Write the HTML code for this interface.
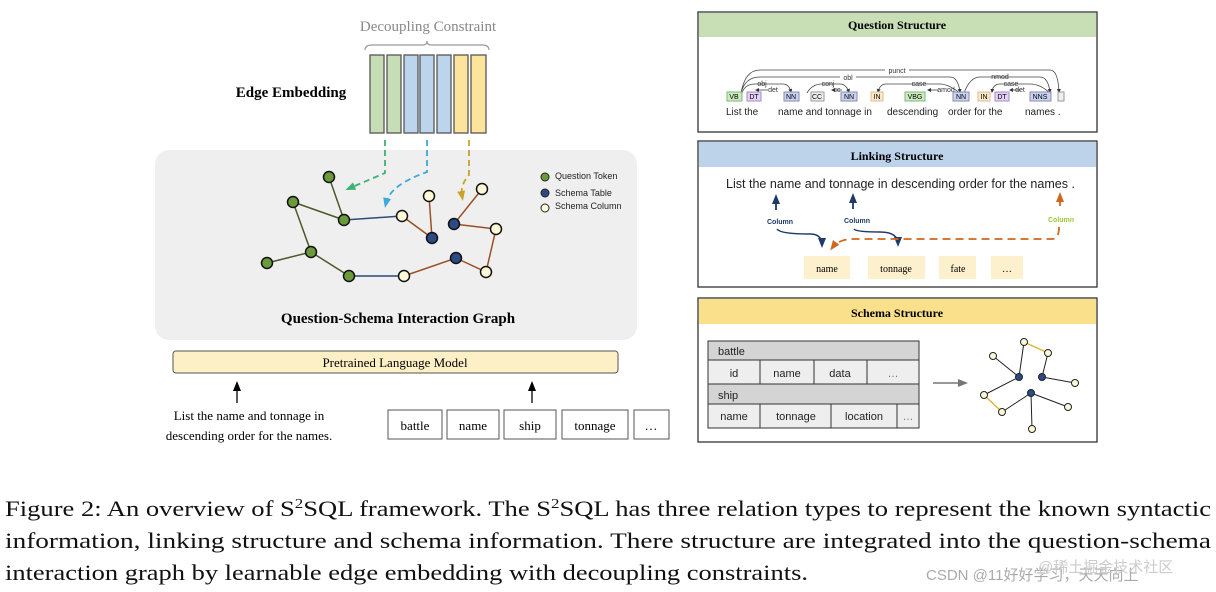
<!DOCTYPE html>
<html><head><meta charset="utf-8"><style>
html,body{margin:0;padding:0;background:#fff;width:1216px;height:592px;overflow:hidden}
svg text{font-family:"Liberation Sans","Noto Sans CJK SC",sans-serif}
.s{font-family:"Liberation Serif",serif}
</style></head><body>
<svg width="1216" height="592" viewBox="0 0 1216 592" xmlns="http://www.w3.org/2000/svg">
<defs>
<marker id="ag" markerUnits="userSpaceOnUse" markerWidth="10" markerHeight="10" refX="5" refY="5" orient="auto"><path d="M0,1L10,5L0,9z" fill="#3cb371"/></marker>
<marker id="ab" markerUnits="userSpaceOnUse" markerWidth="10" markerHeight="10" refX="5" refY="5" orient="auto"><path d="M0,1L10,5L0,9z" fill="#3aa9dc"/></marker>
<marker id="ay" markerUnits="userSpaceOnUse" markerWidth="10" markerHeight="10" refX="5" refY="5" orient="auto"><path d="M0,1L10,5L0,9z" fill="#c9a227"/></marker>
<marker id="ak" markerUnits="userSpaceOnUse" markerWidth="10" markerHeight="10" refX="8" refY="5" orient="auto"><path d="M0,1L10,5L0,9z" fill="#000"/></marker>
<marker id="an" markerUnits="userSpaceOnUse" markerWidth="10" markerHeight="10" refX="7" refY="5" orient="auto"><path d="M0,1L10,5L0,9z" fill="#1f3a68"/></marker>
<marker id="ao" markerUnits="userSpaceOnUse" markerWidth="10" markerHeight="10" refX="7" refY="5" orient="auto"><path d="M0,1L10,5L0,9z" fill="#d0661e"/></marker>
<marker id="ag2" markerUnits="userSpaceOnUse" markerWidth="10" markerHeight="10" refX="8" refY="5" orient="auto"><path d="M0,1L10,5L0,9z" fill="#777"/></marker>
<marker id="ad" markerUnits="userSpaceOnUse" markerWidth="4" markerHeight="4" refX="3" refY="2" orient="auto"><path d="M0,0L4,2L0,4z" fill="#333"/></marker>
</defs>

<text x="428" y="31" class="s" font-size="15" fill="#888" text-anchor="middle">Decoupling Constraint</text>
<path d="M365,50 Q365,45 372,45 L423,45 Q427,45 427,41 Q427,45 431,45 L482,45 Q489,45 489,50" fill="none" stroke="#999" stroke-width="1.2"/>
<g stroke="#555" stroke-width="1.3">
<rect x="370" y="55" width="14" height="78" fill="#c5deb5"/>
<rect x="387" y="55" width="14" height="78" fill="#c5deb5"/>
<rect x="404" y="55" width="14" height="78" fill="#bcd4ec"/>
<rect x="420" y="55" width="14" height="78" fill="#bcd4ec"/>
<rect x="437" y="55" width="14" height="78" fill="#bcd4ec"/>
<rect x="454" y="55" width="14" height="78" fill="#fde49c"/>
<rect x="471" y="55" width="15" height="78" fill="#fde49c"/>
</g>
<text x="291" y="97" class="s" font-size="15" font-weight="bold" text-anchor="middle">Edge Embedding</text>

<rect x="155" y="150" width="482" height="190" rx="14" fill="#efefef"/>
<g fill="none" stroke-width="1.8" stroke-dasharray="6,4">
<path d="M385,140 L385,173 L350,188" stroke="#3cb371" marker-end="url(#ag)"/>
<path d="M427,140 L427,172 Q390,185 386,203" stroke="#3aa9dc" marker-end="url(#ab)"/>
<path d="M469,140 L469,175 Q460,185 462,196" stroke="#c9a227" marker-end="url(#ay)"/>
</g>
<g stroke-width="1.5" fill="none">
<g stroke="#4a5a2a"><path d="M329,177L344,220M293,202L344,220M293,202L311,252L267,263M311,252L349,276"/></g>
<g stroke="#2c4a7a"><path d="M344,220L402,216M349,276L404,276"/></g>
<g stroke="#9a5024"><path d="M402,216L432,238L429,196M482,189L454,224L496,229L486,272L456,258L404,276"/></g>
</g>
<g stroke="#111" stroke-width="1.5">
<g fill="#6a9a3c"><circle cx="329" cy="177" r="5.5"/><circle cx="293" cy="202" r="5.5"/><circle cx="344" cy="220" r="5.5"/><circle cx="311" cy="252" r="5.5"/><circle cx="267" cy="263" r="5.5"/><circle cx="349" cy="276" r="5.5"/></g>
<g fill="#2c4a86"><circle cx="432" cy="238" r="5.5"/><circle cx="454" cy="224" r="5.5"/><circle cx="456" cy="258" r="5.5"/></g>
<g fill="#fcf8d8"><circle cx="402" cy="216" r="5.5"/><circle cx="429" cy="196" r="5.5"/><circle cx="482" cy="189" r="5.5"/><circle cx="496" cy="229" r="5.5"/><circle cx="486" cy="272" r="5.5"/><circle cx="404" cy="276" r="5.5"/></g>
</g>
<g stroke="#222" stroke-width="1">
<circle cx="545" cy="177" r="4" fill="#6a9a3c"/><circle cx="545" cy="193" r="4" fill="#2c4a86"/><circle cx="545" cy="208" r="4" fill="#fcf8d8"/>
</g>
<g font-size="9" fill="#222"><text x="555" y="179">Question Token</text><text x="555" y="196">Schema Table</text><text x="555" y="209">Schema Column</text></g>
<text x="398" y="323" class="s" font-size="15" font-weight="bold" text-anchor="middle">Question-Schema Interaction Graph</text>

<rect x="173" y="351" width="445" height="22" rx="3" fill="#fdf0c6" stroke="#555" stroke-width="1"/>
<text x="395" y="367" class="s" font-size="13" text-anchor="middle">Pretrained Language Model</text>
<path d="M237,403L237,383" stroke="#000" stroke-width="1.3" marker-end="url(#ak)"/>
<path d="M532,403L532,383" stroke="#000" stroke-width="1.3" marker-end="url(#ak)"/>
<text x="249" y="420" class="s" font-size="13" text-anchor="middle">List the name and tonnage in</text>
<text x="249" y="440" class="s" font-size="13" text-anchor="middle">descending order for the names.</text>
<g fill="#fff" stroke="#555" stroke-width="1">
<rect x="388" y="410" width="54" height="29"/><rect x="447" y="410" width="52" height="29"/><rect x="504" y="410" width="52" height="29"/><rect x="562" y="410" width="66" height="29"/><rect x="634" y="410" width="35" height="29"/>
</g>
<g class="s" font-size="13" text-anchor="middle">
<text x="415" y="430" class="s">battle</text><text x="473" y="430" class="s">name</text><text x="530" y="430" class="s">ship</text><text x="595" y="430" class="s">tonnage</text><text x="651" y="430" class="s">…</text>
</g>

<rect x="698" y="12" width="399" height="120" fill="#fff" stroke="#333" stroke-width="1.3"/>
<rect x="699" y="13" width="397" height="24" fill="#c8dfb6"/>
<text x="897" y="29" class="s" font-size="12" font-weight="bold" text-anchor="middle">Question Structure</text>
<g fill="none" stroke="#444" stroke-width="0.8">
<path d="M741,93 Q745,70 760,70 L1050,70 Q1058,70 1059,92" marker-end="url(#ad)"/>
<path d="M741,93 Q745,77 760,77 L950,77 Q958,77 960,92" marker-end="url(#ad)"/>
<path d="M742,93 Q745,84 755,84 L783,84 Q789,84 791,92" marker-end="url(#ad)"/>
<path d="M768,90 L756,90" marker-end="url(#ad)"/>
<path d="M807,93 Q812,84 822,84 L840,84 Q846,84 849,92" marker-end="url(#ad)"/>
<path d="M842,90 L832,90" marker-end="url(#ad)"/>
<path d="M960,93 Q948,84 940,84 L886,84 Q880,84 878,92" marker-end="url(#ad)"/>
<path d="M938,90 L928,90" marker-end="url(#ad)"/>
<path d="M964,93 Q970,77 980,77 L1040,77 Q1048,77 1050,92" marker-end="url(#ad)"/>
<path d="M1050,93 Q1040,84 1030,84 L1000,84 Q993,84 992,92" marker-end="url(#ad)"/>
<path d="M1021,90 L1010,90" marker-end="url(#ad)"/>
</g>
<g font-size="7" fill="#333" text-anchor="middle">
<rect x="885" y="66" width="24" height="7" fill="#fff"/><text x="897" y="73">punct</text>
<rect x="840" y="73" width="16" height="7" fill="#fff"/><text x="848" y="80">obl</text>
<text x="762" y="86">obj</text><text x="773" y="92">det</text><text x="828" y="86">conj</text><text x="837" y="92">cc</text>
<text x="919" y="86">case</text><text x="946" y="92">amod</text><text x="1000" y="79">nmod</text><text x="1011" y="86">case</text><text x="1020" y="92">det</text>
</g>
<g font-size="7" text-anchor="middle">
<rect x="727" y="92" width="15" height="9" fill="#cfe9c0" stroke="#7b7"/><text x="734" y="99">VB</text>
<rect x="747" y="92" width="14" height="9" fill="#e3d2f3" stroke="#a8c"/><text x="754" y="99">DT</text>
<rect x="784" y="92" width="15" height="9" fill="#c9d3ee" stroke="#88b"/><text x="791" y="99">NN</text>
<rect x="811" y="92" width="13" height="9" fill="#eee" stroke="#999"/><text x="817" y="99">CC</text>
<rect x="841" y="92" width="16" height="9" fill="#c9d3ee" stroke="#88b"/><text x="849" y="99">NN</text>
<rect x="871" y="92" width="12" height="9" fill="#fbe9c4" stroke="#db9"/><text x="877" y="99">IN</text>
<rect x="905" y="92" width="20" height="9" fill="#cfe9c0" stroke="#7b7"/><text x="915" y="99">VBG</text>
<rect x="953" y="92" width="16" height="9" fill="#c9d3ee" stroke="#88b"/><text x="961" y="99">NN</text>
<rect x="978" y="92" width="12" height="9" fill="#fbe9c4" stroke="#db9"/><text x="984" y="99">IN</text>
<rect x="995" y="92" width="14" height="9" fill="#e3d2f3" stroke="#a8c"/><text x="1002" y="99">DT</text>
<rect x="1030" y="92" width="21" height="9" fill="#c9d3ee" stroke="#88b"/><text x="1040" y="99">NNS</text>
<rect x="1058" y="92" width="6" height="9" fill="#eee" stroke="#999"/>
</g>
<g font-size="10" fill="#222">
<text x="726" y="115">List the</text><text x="778" y="115">name and tonnage in</text><text x="887" y="115">descending</text><text x="948" y="115">order for the</text><text x="1025" y="115">names .</text>
</g>

<rect x="698" y="141" width="399" height="146" fill="#fff" stroke="#333" stroke-width="1.3"/>
<rect x="699" y="142" width="397" height="25" fill="#bdd3ea"/>
<text x="897" y="160" class="s" font-size="12" font-weight="bold" text-anchor="middle">Linking Structure</text>
<text x="726" y="188" font-size="12.5" fill="#222" textLength="349" lengthAdjust="spacingAndGlyphs">List the name and tonnage in  descending order for the names .</text>
<path d="M776,210L776,197" stroke="#1f3a68" stroke-width="1.8" marker-end="url(#an)"/>
<path d="M853,209L853,196" stroke="#1f3a68" stroke-width="1.8" marker-end="url(#an)"/>
<path d="M1060,206L1060,195" stroke="#d0661e" stroke-width="1.8" marker-end="url(#ao)"/>
<g font-size="7" font-weight="bold"><text x="767" y="224" fill="#1f3a68">Column</text><text x="844" y="223" fill="#1f3a68">Column</text><text x="1048" y="222" fill="#9acd32">Column</text></g>
<path d="M777,229 Q780,234 810,234 Q822,234 822,245" fill="none" stroke="#1f3a68" stroke-width="1.5" marker-end="url(#an)"/>
<path d="M854,229 Q856,232 880,232 Q898,232 898,244" fill="none" stroke="#1f3a68" stroke-width="1.5" marker-end="url(#an)"/>
<path d="M1059,227 Q1059,239 1052,239 L850,239 Q838,240 832,248" fill="none" stroke="#d0661e" stroke-width="1.8" stroke-dasharray="8,5" marker-end="url(#ao)"/>
<g fill="#fdf0cc"><rect x="804" y="256" width="46" height="23"/><rect x="868" y="256" width="57" height="23"/><rect x="939" y="256" width="37" height="23"/><rect x="991" y="256" width="32" height="23"/></g>
<g class="s" font-size="10" text-anchor="middle"><text x="827" y="272" class="s">name</text><text x="896" y="272" class="s">tonnage</text><text x="958" y="272" class="s">fate</text><text x="1007" y="272" class="s">…</text></g>

<rect x="698" y="298" width="399" height="144" fill="#fff" stroke="#333" stroke-width="1.3"/>
<rect x="699" y="299" width="397" height="25" fill="#fbe08c"/>
<text x="897" y="317" class="s" font-size="12" font-weight="bold" text-anchor="middle">Schema Structure</text>
<g stroke="#333" stroke-width="1">
<rect x="708" y="341" width="211" height="19" fill="#d4d4d4"/>
<rect x="708" y="360" width="211" height="24" fill="#eee"/>
<rect x="708" y="384" width="211" height="20" fill="#d4d4d4"/>
<rect x="708" y="404" width="211" height="24" fill="#eee"/>
<path d="M760,360V384M814,360V384M867,360V384M760,404V428M831,404V428M897,404V428"/>
</g>
<g font-size="11" fill="#222">
<text x="718" y="355">battle</text><text x="718" y="399">ship</text>
<text x="734" y="377" text-anchor="middle">id</text><text x="787" y="377" text-anchor="middle">name</text><text x="840" y="377" text-anchor="middle">data</text><text x="893" y="377" text-anchor="middle" fill="#777">…</text>
<text x="734" y="420" text-anchor="middle">name</text><text x="796" y="420" text-anchor="middle">tonnage</text><text x="864" y="420" text-anchor="middle">location</text><text x="908" y="420" text-anchor="middle" fill="#777">…</text>
</g>
<path d="M933,383L966,383" stroke="#777" stroke-width="1.5" marker-end="url(#ag2)"/>
<g stroke="#222" stroke-width="1" fill="none">
<path d="M993,356L1019,377L1024,342M1019,377L984,395M1042,377L1048,353M1042,377L1075,383M1031,393L1002,412M1031,393L1068,407M1031,393L1032,429"/>
</g>
<g stroke="#e0b030" stroke-width="1.3"><path d="M1024,342L1048,353M984,395L1002,412"/></g>
<g stroke="#222" stroke-width="1">
<g fill="#2c4a86"><circle cx="1019" cy="377" r="3.5"/><circle cx="1042" cy="377" r="3.5"/><circle cx="1031" cy="393" r="3.5"/></g>
<g fill="#fcf8d8"><circle cx="993" cy="356" r="3.5"/><circle cx="1024" cy="342" r="3.5"/><circle cx="1048" cy="353" r="3.5"/><circle cx="1075" cy="383" r="3.5"/><circle cx="984" cy="395" r="3.5"/><circle cx="1002" cy="412" r="3.5"/><circle cx="1068" cy="407" r="3.5"/><circle cx="1032" cy="429" r="3.5"/></g>
</g>

<g class="s" font-size="22" fill="#111">
<text x="5" y="516" class="s" textLength="1206" lengthAdjust="spacingAndGlyphs">Figure 2: An overview of S<tspan font-size="14" dy="-8">2</tspan><tspan dy="8">SQL framework. The S</tspan><tspan font-size="14" dy="-8">2</tspan><tspan dy="8">SQL has three relation types to represent the known syntactic</tspan></text>
<text x="5" y="548" class="s" textLength="1206" lengthAdjust="spacingAndGlyphs">information, linking structure and schema information.  There structure are integrated into the question-schema</text>
<text x="5" y="580" class="s" textLength="803" lengthAdjust="spacingAndGlyphs">interaction graph by learnable edge embedding with decoupling constraints.</text>
</g>
<text x="926" y="580" font-size="15" fill="#aaa">CSDN @11好好学习，天天向上</text>
<text x="1038" y="572" font-size="15" fill="#ccc">@稀土掘金技术社区</text>
</svg>
</body></html>
